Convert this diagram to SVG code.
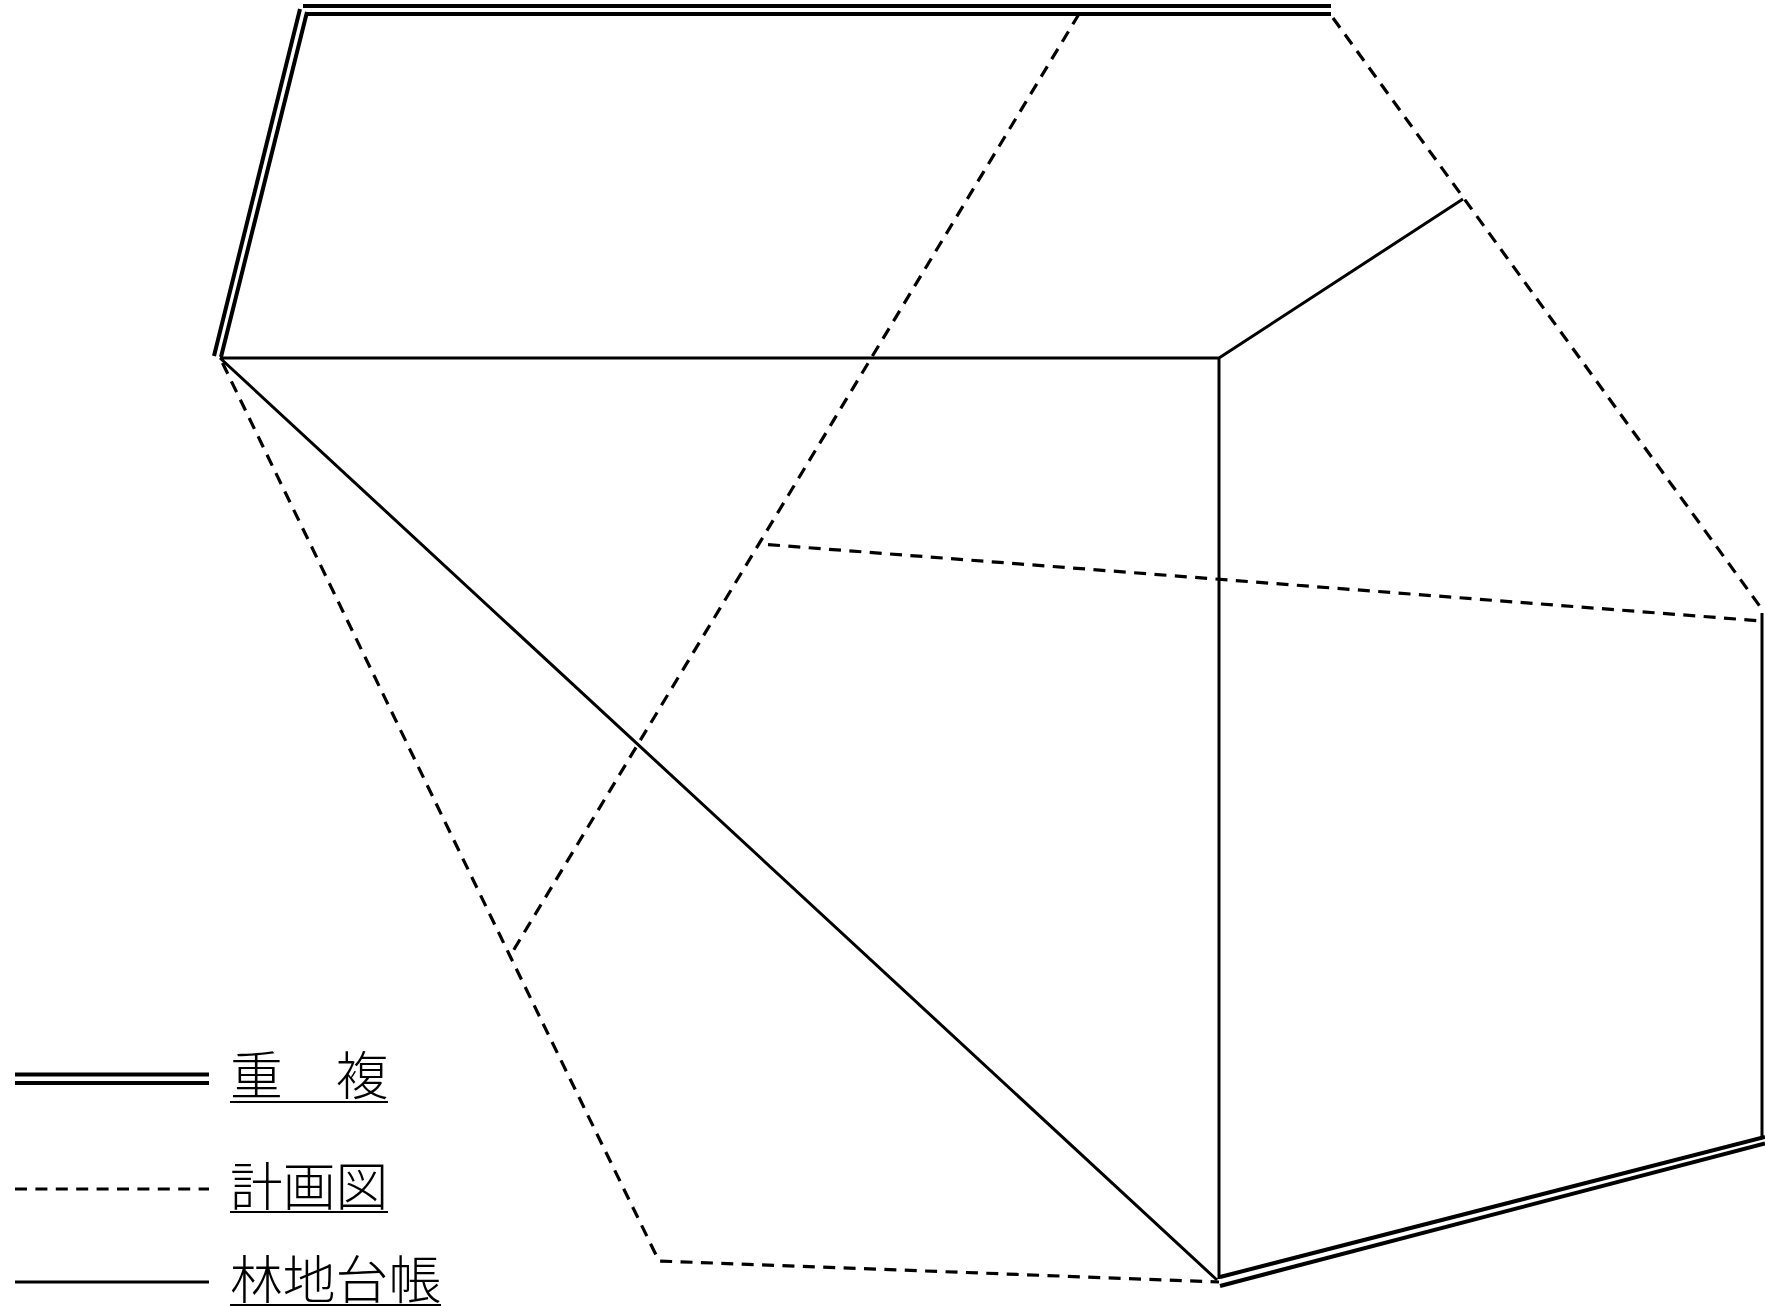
<svg xmlns="http://www.w3.org/2000/svg" width="1765" height="1306" viewBox="0 0 1765 1306">
<style>
.s{fill:none;stroke:#000;stroke-width:3}
.d{fill:none;stroke:#000;stroke-width:3.2;stroke-dasharray:12 8.4}
.w{fill:none;stroke:#000;stroke-width:4}
.u{fill:none;stroke:#000;stroke-width:2}
text{font-family:"Noto Sans CJK JP","Noto Sans CJK SC",sans-serif;font-size:52.8px;font-weight:300;fill:#000}
</style>
<rect width="1765" height="1306" fill="#fff"/>
<g id="connectors">
<path class="w" d="M303 6H1331M305 14H1331"/>
<path class="w" d="M300 9L214 356M307 12L221 357"/>
<path class="s" d="M220 358H1219L1463 199M1219 358V1279M220 358L1217 1280"/>
<path class="s" d="M1762 613V1138"/>
<path class="w" d="M1220 1277L1765 1137M1220 1286L1765 1143.500"/>
<path class="d" d="M222.500 363L510 956L659 1261L1219 1282"/>
<path class="d" d="M1079 14L510 956"/>
<path class="d" d="M1333 18L1764 612"/>
<path class="d" d="M768 544.600L1762 621"/>
</g>
<g id="legend-overlap">
<path class="w" d="M15 1074.500H209M15 1083H209"/>
<text x="230" y="1095">重　複</text>
<path class="u" d="M230 1102H388"/>
</g>
<g id="legend-plan">
<path class="d" d="M15 1189H209"/>
<text x="230" y="1206">計画図</text>
<path class="u" d="M230 1212H388"/>
</g>
<g id="legend-ledger">
<path class="s" d="M15 1282H209"/>
<text x="230" y="1299">林地台帳</text>
<path class="u" d="M230 1305H441"/>
</g>
</svg>
